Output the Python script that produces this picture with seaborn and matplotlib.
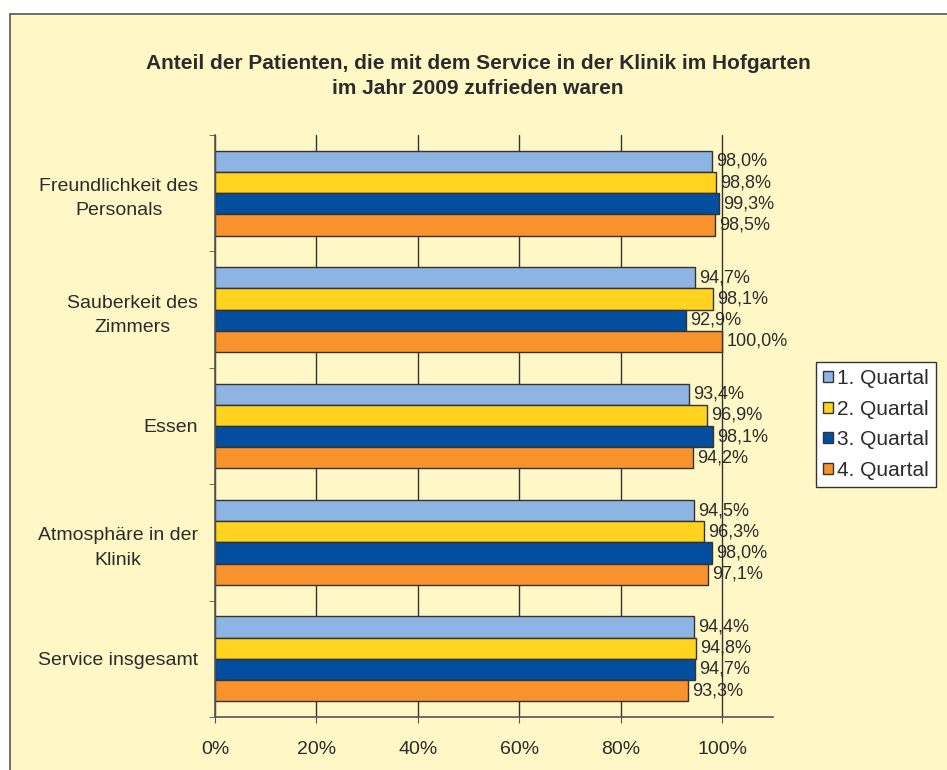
import pandas as pd
import numpy as np
import matplotlib.pyplot as plt
import seaborn as sns
from matplotlib.patches import Rectangle

kategorien = ['Freundlichkeit des\nPersonals', 'Sauberkeit des\nZimmers', 'Essen',
              'Atmosphäre in der\nKlinik', 'Service insgesamt']
quartale = ['1. Quartal', '2. Quartal', '3. Quartal', '4. Quartal']
q1 = [98.0, 94.7, 93.4, 94.5, 94.4]
q2 = [98.8, 98.1, 96.9, 96.3, 94.8]
q3 = [99.3, 92.9, 98.1, 98.0, 94.7]
q4 = [98.5, 100.0, 94.2, 97.1, 93.3]
farben = ['#8EB4E3', '#FFD320', '#044EA0', '#F7922C']

rows = []
for q, werte in zip(quartale, [q1, q2, q3, q4]):
    for k, w in zip(kategorien, werte):
        rows.append({'Kategorie': k, 'Quartal': q, 'Wert': w})
data = pd.DataFrame(rows)

sns.set_style('white')
plt.rcParams['font.family'] = ['Liberation Sans', 'DejaVu Sans']
bg = '#FFF8C6'
txt = '#2b2b2b'

fig = plt.figure(figsize=(9.47, 7.7), dpi=100, facecolor='white')
fig.patches.append(Rectangle((10/947, -0.1), 1.1, 1 - 14/770 + 0.1, transform=fig.transFigure,
                             facecolor=bg, edgecolor='#555555', linewidth=1.2, zorder=-10))
ax = fig.add_axes([215/947, 1 - 717/770, 558/947, 582/770])
ax.set_facecolor(bg)

sns.barplot(data=data, y='Kategorie', x='Wert', hue='Quartal', palette=farben, saturation=1,
            orient='h', width=0.73, edgecolor='#333333', linewidth=1, ax=ax, legend=False)

for cont, werte in zip(ax.containers, [q1, q2, q3, q4]):
    ax.bar_label(cont, labels=[f'{w:.1f}%'.replace('.', ',') for w in werte],
                 padding=3, fontsize=13, color=txt)

ax.set_xlim(0, 110)
ax.set_ylim(4.5, -0.5)
ax.set_xticks([0, 20, 40, 60, 80, 100])
ax.set_xticklabels(['0%', '20%', '40%', '60%', '80%', '100%'], fontsize=14, color=txt)
ax.set_yticks(np.arange(-0.5, 5, 1), minor=True)
ax.tick_params(axis='y', which='major', length=0, pad=12, labelsize=14, labelcolor=txt)
ax.tick_params(axis='y', which='minor', length=4, color='#555555', direction='out', left=True)
ax.tick_params(axis='x', length=4, color='#555555', direction='out', bottom=True, pad=13)
for lab in ax.get_yticklabels():
    lab.set_multialignment('center')
    lab.set_linespacing(1.55)
ax.xaxis.grid(True, color='#333333', linewidth=1)
ax.set_axisbelow(True)
ax.set_xlabel('')
ax.set_ylabel('')
sns.despine(ax=ax, top=True, right=True)
for s in ['left', 'bottom']:
    ax.spines[s].set_color('#555555')
    ax.spines[s].set_linewidth(1.2)

fig.text(478/947, 1 - 76/770,
         'Anteil der Patienten, die mit dem Service in der Klinik im Hofgarten\nim Jahr 2009 zufrieden waren',
         ha='center', va='center', fontsize=15, fontweight='bold', color=txt, linespacing=1.45)

handles = [Rectangle((0, 0), 1, 1, facecolor=c, edgecolor='#333333', linewidth=1) for c in farben]
leg = ax.legend(handles, quartale, loc='upper left', bbox_to_anchor=(816/947, 1 - 362/770),
                bbox_transform=fig.transFigure, fontsize=15, frameon=True, fancybox=False,
                edgecolor='#333333', facecolor='white', framealpha=1, handlelength=0.45,
                handleheight=0.45, handletextpad=0.2, labelspacing=0.55, borderpad=0.35,
                borderaxespad=0)
leg.get_frame().set_linewidth(1)
for t in leg.get_texts():
    t.set_color(txt)

fig.savefig('out.png', dpi=100, facecolor='white')
